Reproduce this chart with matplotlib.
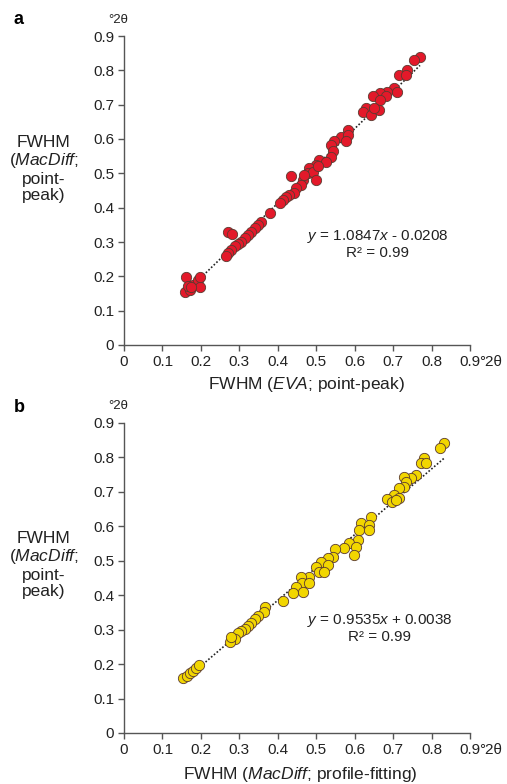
import matplotlib
matplotlib.use("Agg")
import matplotlib.pyplot as plt
import numpy as np

plt.rcParams['font.family'] = ['Liberation Sans', 'DejaVu Sans']
plt.rcParams['mathtext.fontset'] = 'custom'
plt.rcParams['mathtext.rm'] = 'Liberation Sans'
plt.rcParams['mathtext.it'] = 'Liberation Sans:italic'

# Panel a data: EVA point-peak (x) vs MacDiff point-peak (y)
a_x = [0.770, 0.755, 0.737, 0.716, 0.733, 0.703, 0.685, 0.666, 0.647, 0.681, 0.666, 0.709,
       0.629, 0.621, 0.642, 0.664, 0.651, 0.582, 0.565, 0.582, 0.547, 0.539, 0.577, 0.543, 0.539,
       0.508, 0.526, 0.500, 0.482, 0.478, 0.491, 0.504, 0.435, 0.500,
       0.465, 0.461, 0.448, 0.443, 0.430, 0.422, 0.413, 0.405, 0.469, 0.379,
       0.357, 0.348, 0.340, 0.331, 0.322, 0.314, 0.305, 0.296, 0.288, 0.279, 0.270, 0.265,
       0.270, 0.282,
       0.161, 0.158, 0.171, 0.180, 0.193, 0.197, 0.197, 0.166, 0.175]
a_y = [0.839, 0.831, 0.800, 0.787, 0.787, 0.748, 0.738, 0.734, 0.724, 0.724, 0.714, 0.738,
       0.690, 0.680, 0.671, 0.685, 0.690, 0.627, 0.607, 0.612, 0.593, 0.583, 0.593, 0.564, 0.549,
       0.539, 0.534, 0.525, 0.515, 0.500, 0.505, 0.520, 0.491, 0.481,
       0.481, 0.466, 0.457, 0.442, 0.437, 0.432, 0.423, 0.413, 0.496, 0.384,
       0.359, 0.350, 0.340, 0.330, 0.321, 0.311, 0.301, 0.294, 0.287, 0.277, 0.267, 0.259,
       0.328, 0.324,
       0.197, 0.155, 0.160, 0.175, 0.190, 0.170, 0.197, 0.172, 0.168]
a_slope, a_icpt = 1.0847, -0.0208

# Panel b data: MacDiff profile-fitting (x) vs MacDiff point-peak (y)
b_x = [0.832, 0.821, 0.781, 0.772, 0.785, 0.759, 0.746, 0.729, 0.733, 0.729, 0.716, 0.703,
       0.716, 0.685, 0.698, 0.707,
       0.642, 0.616, 0.638, 0.612, 0.638, 0.608, 0.586, 0.603, 0.599, 0.573, 0.550, 0.543,
       0.530, 0.513, 0.530, 0.500, 0.508, 0.521, 0.482, 0.461, 0.463, 0.448, 0.439, 0.465,
       0.482, 0.413,
       0.368, 0.363, 0.348, 0.340, 0.331, 0.322, 0.314, 0.305, 0.296, 0.288, 0.275, 0.279,
       0.154, 0.163, 0.171, 0.180, 0.188, 0.195]
b_y = [0.841, 0.827, 0.798, 0.785, 0.785, 0.749, 0.739, 0.742, 0.730, 0.715, 0.710, 0.691,
       0.681, 0.679, 0.672, 0.677,
       0.626, 0.611, 0.604, 0.589, 0.590, 0.560, 0.551, 0.541, 0.517, 0.536, 0.533, 0.512,
       0.507, 0.497, 0.488, 0.483, 0.468, 0.468, 0.454, 0.454, 0.435, 0.425, 0.407, 0.410,
       0.435, 0.384,
       0.365, 0.352, 0.340, 0.330, 0.320, 0.311, 0.303, 0.295, 0.291, 0.272, 0.265, 0.278,
       0.159, 0.166, 0.173, 0.181, 0.188, 0.197]
b_slope, b_icpt = 0.9535, 0.0038

ticks = [0, 0.1, 0.2, 0.3, 0.4, 0.5, 0.6, 0.7, 0.8, 0.9]
tick_labels = ['0', '0.1', '0.2', '0.3', '0.4', '0.5', '0.6', '0.7', '0.8', '0.9']

W, H = 507, 784
fig = plt.figure(figsize=(W / 100, H / 100), dpi=100)

left = 124 / W
width = (470 - 124) / W
axa = fig.add_axes([left, 1 - 345 / H, width, (345 - 36) / H])
axb = fig.add_axes([left, 1 - 733 / H, width, (733 - 423) / H])

spine_col = '#555555'
txt_col = '#222222'
fs = 11
lab_fs = 12.5

def style(ax, xs, ys, slope, icpt, face, eq, xlabel, ylabel_y, xlabel_xy, eq_xy, letter, letter_y):
    ax.scatter(xs, ys, s=55, c=face, edgecolors='#5a3a30', linewidths=0.6, zorder=3)
    xl = np.array([min(xs), max(xs)])
    ax.plot(xl, slope * xl + icpt, linestyle=(0, (1, 1.2)), color='#222222', lw=1.2, zorder=2)
    ax.set_xlim(0, 0.9)
    ax.set_ylim(0, 0.9)
    for s in ['top', 'right']:
        ax.spines[s].set_visible(False)
    for s in ['left', 'bottom']:
        ax.spines[s].set_color(spine_col)
        ax.spines[s].set_linewidth(1.0)
    ax.set_xticks(ticks)
    ax.set_xticklabels(tick_labels)
    ax.set_yticks(ticks)
    ax.set_yticklabels(tick_labels)
    ax.tick_params(direction='out', length=4, width=1, color=spine_col,
                   labelsize=fs, labelcolor=txt_col, pad=3)
    # units
    ax.annotate('\u00b02\u03b8', xy=(0.9, 0), xycoords=('data', 'axes fraction'),
                xytext=(6.6, -7), textcoords='offset points', ha='left', va='top',
                fontsize=fs, color=txt_col, annotation_clip=False)
    ax.text(-0.016, 0.948, '\u00b02\u03b8', ha='center', va='center', fontsize=9.5,
            color=txt_col, clip_on=False)
    ax.text(eq_xy[0], eq_xy[1], eq + '\nR\u00b2 = 0.99', ha='center', va='center',
            fontsize=fs, color=txt_col, linespacing=1.1)
    fig.text(44 / W, 1 - ylabel_y / H, 'FWHM\n($\\mathit{MacDiff;}$\npoint-\npeak)',
             ha='center', va='center', fontsize=lab_fs, color=txt_col, linespacing=1.1)
    fig.text(xlabel_xy[0] / W, 1 - xlabel_xy[1] / H, xlabel, ha='center', va='center',
             fontsize=lab_fs, color=txt_col)
    fig.text(14 / W, 1 - letter_y / H, letter, ha='left', va='center',
             fontsize=13, fontweight='bold', color='#000000')

style(axa, a_x, a_y, a_slope, a_icpt, '#e3192a',
      '$\\mathit{y}$ = 1.0847$\\mathit{x}$ - 0.0208',
      'FWHM ($\\mathit{EVA}$; point-peak)', 169, (306, 385),
      (0.66, 0.294), 'a', 20)
style(axb, b_x, b_y, b_slope, b_icpt, '#f2d600',
      '$\\mathit{y}$ = 0.9535$\\mathit{x}$ + 0.0038',
      'FWHM ($\\mathit{MacDiff}$; profile-fitting)', 565, (300, 775),
      (0.664, 0.305), 'b', 408)

fig.savefig('out.png', dpi=100)
